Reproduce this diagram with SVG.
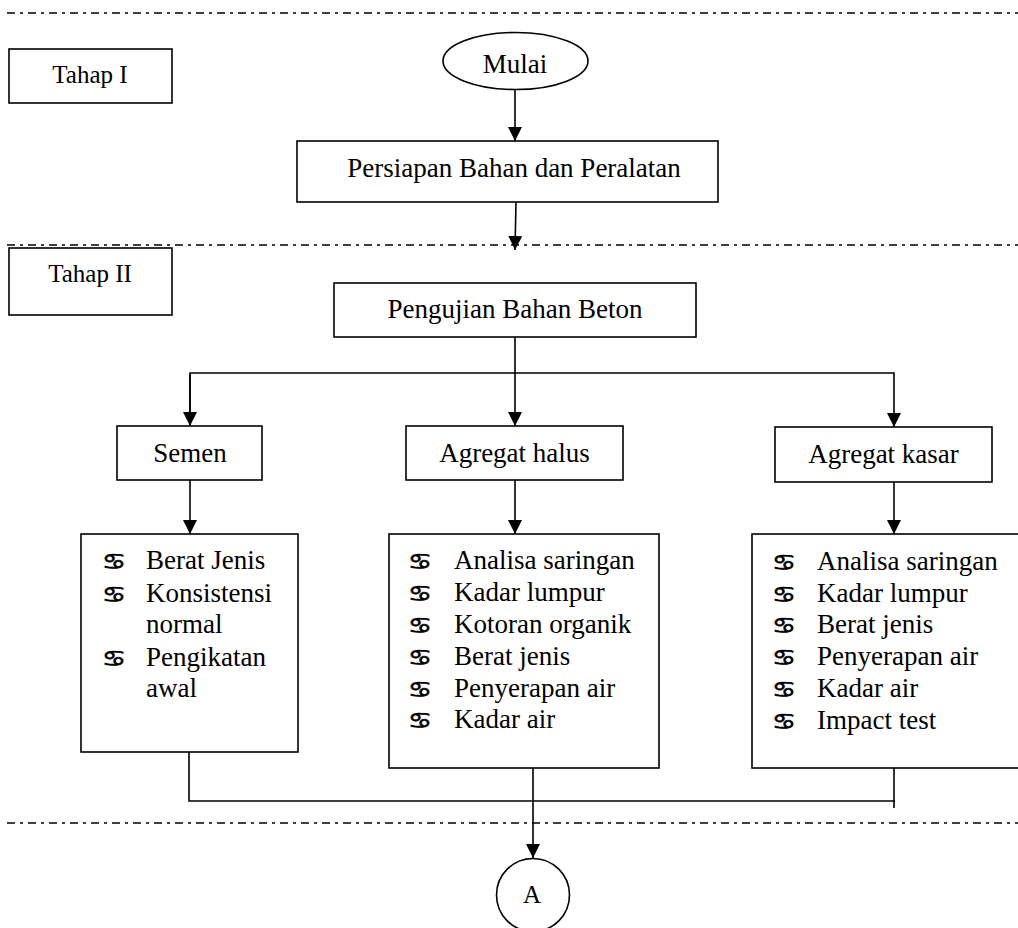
<svg xmlns="http://www.w3.org/2000/svg" width="1018" height="928" viewBox="0 0 1018 928">
<style>
.bx{fill:#fff;stroke:#000;stroke-width:1.6}
.ln{fill:none;stroke:#000;stroke-width:1.6}
.dd{fill:none;stroke:#000;stroke-width:1.4;stroke-dasharray:8 5 3 5}
.t{font-family:"Liberation Serif","Times New Roman",serif;font-size:27px;fill:#000}
.tc{text-anchor:middle}
.s{font-size:25px}
.b{font-family:"DejaVu Sans",sans-serif;font-size:22px;fill:#000;stroke:#000;stroke-width:0.7}
</style>
<defs>
<marker id="ah" markerUnits="userSpaceOnUse" markerWidth="14" markerHeight="14" refX="14" refY="7" orient="auto">
<path d="M0,0 L14,7 L0,14 z" fill="#000"/>
</marker>
</defs>
<rect width="1018" height="928" fill="#fff"/>
<g id="separators">
<line class="dd" x1="7" y1="13" x2="1018" y2="13"/>
<line class="dd" x1="7" y1="245" x2="1018" y2="245"/>
<line class="dd" x1="7" y1="823" x2="1018" y2="823"/>
</g>
<g id="tahap1"><rect class="bx" x="9" y="49" width="163" height="54"/><text class="t tc s" x="90" y="83">Tahap I</text></g>
<g id="tahap2"><rect class="bx" x="9" y="248" width="163" height="67"/><text class="t tc s" x="90" y="282">Tahap II</text></g>
<g id="connectors">
<line class="ln" x1="515" y1="89" x2="515" y2="141" marker-end="url(#ah)"/>
<line class="ln" x1="516" y1="202" x2="515" y2="250" marker-end="url(#ah)"/>
<polyline class="ln" points="515,337 515,373"/>
<polyline class="ln" points="190,426 190,373 894,373 894,427" marker-end="url(#ah)"/>
<line class="ln" x1="190" y1="374" x2="190" y2="426" marker-end="url(#ah)"/>
<line class="ln" x1="515" y1="373" x2="515" y2="426" marker-end="url(#ah)"/>
<line class="ln" x1="190" y1="480" x2="190" y2="534" marker-end="url(#ah)"/>
<line class="ln" x1="515" y1="480" x2="515" y2="534" marker-end="url(#ah)"/>
<line class="ln" x1="894" y1="482" x2="894" y2="534" marker-end="url(#ah)"/>
<polyline class="ln" points="189,747 189,801 895,801"/>
<line class="ln" x1="894" y1="768" x2="894" y2="808"/>
<line class="ln" x1="533" y1="768" x2="533" y2="858" marker-end="url(#ah)"/>
</g>
<g id="mulai"><ellipse class="bx" cx="515.5" cy="61" rx="72.5" ry="28.5"/><text class="t tc" x="515" y="73">Mulai</text></g>
<g id="persiapan"><rect class="bx" x="297" y="141" width="421" height="61"/><text class="t tc" x="514" y="177">Persiapan Bahan dan Peralatan</text></g>
<g id="pengujian"><rect class="bx" x="334" y="283" width="362" height="54"/><text class="t tc" x="515" y="318">Pengujian Bahan Beton</text></g>
<g id="semen"><rect class="bx" x="117" y="426" width="145" height="54"/><text class="t tc" x="190" y="462">Semen</text></g>
<g id="halus"><rect class="bx" x="406" y="426" width="217" height="54"/><text class="t tc" x="514.5" y="462">Agregat halus</text></g>
<g id="kasar"><rect class="bx" x="775" y="427" width="217" height="55"/><text class="t tc" x="883.5" y="463">Agregat kasar</text></g>
<g id="semen-list">
<rect class="bx" x="81" y="534" width="217" height="218"/>
<text class="b" x="102" y="569" textLength="24" lengthAdjust="spacingAndGlyphs">♋</text><text class="t" x="146" y="569">Berat Jenis</text>
<text class="b" x="102" y="602" textLength="24" lengthAdjust="spacingAndGlyphs">♋</text><text class="t" x="146" y="602">Konsistensi</text>
<text class="t" x="146" y="633">normal</text>
<text class="b" x="102" y="666" textLength="24" lengthAdjust="spacingAndGlyphs">♋</text><text class="t" x="146" y="666">Pengikatan</text>
<text class="t" x="146" y="697">awal</text>
</g>
<g id="halus-list">
<rect class="bx" x="389" y="534" width="270" height="234"/>
<text class="b" x="408" y="569" textLength="24" lengthAdjust="spacingAndGlyphs">♋</text><text class="t" x="454" y="569">Analisa saringan</text>
<text class="b" x="408" y="601" textLength="24" lengthAdjust="spacingAndGlyphs">♋</text><text class="t" x="454" y="601">Kadar lumpur</text>
<text class="b" x="408" y="633" textLength="24" lengthAdjust="spacingAndGlyphs">♋</text><text class="t" x="454" y="633">Kotoran organik</text>
<text class="b" x="408" y="665" textLength="24" lengthAdjust="spacingAndGlyphs">♋</text><text class="t" x="454" y="665">Berat jenis</text>
<text class="b" x="408" y="697" textLength="24" lengthAdjust="spacingAndGlyphs">♋</text><text class="t" x="454" y="697">Penyerapan air</text>
<text class="b" x="408" y="728" textLength="24" lengthAdjust="spacingAndGlyphs">♋</text><text class="t" x="454" y="728">Kadar air</text>
</g>
<g id="kasar-list">
<rect class="bx" x="752" y="534" width="280" height="234"/>
<text class="b" x="772" y="570" textLength="24" lengthAdjust="spacingAndGlyphs">♋</text><text class="t" x="817" y="570">Analisa saringan</text>
<text class="b" x="772" y="602" textLength="24" lengthAdjust="spacingAndGlyphs">♋</text><text class="t" x="817" y="602">Kadar lumpur</text>
<text class="b" x="772" y="633" textLength="24" lengthAdjust="spacingAndGlyphs">♋</text><text class="t" x="817" y="633">Berat jenis</text>
<text class="b" x="772" y="665" textLength="24" lengthAdjust="spacingAndGlyphs">♋</text><text class="t" x="817" y="665">Penyerapan air</text>
<text class="b" x="772" y="697" textLength="24" lengthAdjust="spacingAndGlyphs">♋</text><text class="t" x="817" y="697">Kadar air</text>
<text class="b" x="772" y="729" textLength="24" lengthAdjust="spacingAndGlyphs">♋</text><text class="t" x="817" y="729">Impact test</text>
</g>
<g id="connector-a"><circle class="bx" cx="533" cy="895" r="36.5"/><text class="t tc s" x="532" y="903">A</text></g>
</svg>
